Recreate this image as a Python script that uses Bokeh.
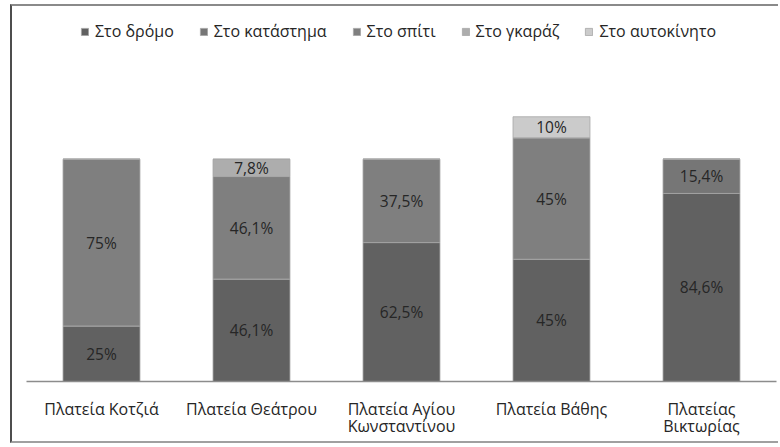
from bokeh.plotting import figure
from bokeh.models import ColumnDataSource, LabelSet, Range1d, FactorRange, Legend
from bokeh.core.properties import value
from bokeh.embed import file_html
from bokeh.resources import INLINE

# ---- data ----
places = ["Πλατεία Κοτζιά", "Πλατεία Θεάτρου", "Πλατεία Αγίου\nΚωνσταντίνου",
          "Πλατεία Βάθης", "Πλατείας\nΒικτωρίας"]
series = ["Στο δρόμο", "Στο κατάστημα", "Στο σπίτι", "Στο γκαράζ", "Στο αυτοκίνητο"]
# segment heights as drawn (percent scale)
street = [25, 46.1, 62.5, 55.0, 84.6]
shop = [0, 0, 0, 0, 15.4]
home = [75, 46.1, 37.5, 54.6, 0]
garage = [0, 7.8, 0, 0, 0]
car = [0, 0, 0, 9.5, 0]
# printed labels
street_lbl = ["25%", "46,1%", "62,5%", "45%", "84,6%"]
shop_lbl = ["", "", "", "", "15,4%"]
home_lbl = ["75%", "46,1%", "37,5%", "45%", ""]
garage_lbl = ["", "7,8%", "", "", ""]
car_lbl = ["", "", "", "10%", ""]

colors = ["#616161", "#767676", "#7f7f7f", "#adadad", "#cbcbcb"]
keys = ["street", "shop", "home", "garage", "car"]

src = ColumnDataSource(dict(place=places, street=street, shop=shop, home=home,
                            garage=garage, car=car))

FONT = "Open Sans"

p = figure(x_range=FactorRange(*places), y_range=Range1d(0, 165.1),
           width=768, height=439, output_backend="svg", toolbar_location=None,
           min_border_left=14, min_border_right=4, min_border_top=8, min_border_bottom=64)
p.styles = {"margin-left": "10px", "margin-top": "4px",
            "border-left": "2px solid #4d4d4d", "border-top": "2px solid #8a8a8a",
            "border-bottom": "2px solid #a0a0a0"}

renderers = p.vbar_stack(keys, x="place", width=0.513, source=src, color=colors,
                         line_color="#a6a6a6", line_width=0.8)

# labels at segment centres
lx, ly, lt = [], [], []
all_vals = [street, shop, home, garage, car]
all_lbls = [street_lbl, shop_lbl, home_lbl, garage_lbl, car_lbl]
for i, pl in enumerate(places):
    base = 0
    for vals, lbls in zip(all_vals, all_lbls):
        h = vals[i]
        if lbls[i]:
            lx.append(pl)
            ly.append(base + h / 2)
            lt.append(lbls[i])
        base += h
lsrc = ColumnDataSource(dict(x=lx, y=ly, t=lt))
p.add_layout(LabelSet(x="x", y="y", text="t", source=lsrc, text_align="center",
                      text_baseline="middle", text_font=value(FONT),
                      text_font_size="15.5px", text_color="#262626"))

legend = Legend(items=[(s, [r]) for s, r in zip(series, renderers)],
                orientation="horizontal", location=(54, 339))
legend.label_text_font = FONT
legend.label_text_font_size = "16px"
legend.label_text_color = "#262626"
legend.glyph_width = 9
legend.glyph_height = 9
legend.label_standoff = 6
legend.spacing = 25
legend.padding = 0
legend.margin = 0
legend.label_height = 20
legend.border_line_color = None
legend.background_fill_alpha = 0
p.add_layout(legend, "center")

p.yaxis.visible = False
p.xgrid.visible = False
p.ygrid.visible = False
p.outline_line_color = None
p.xaxis.axis_line_color = "#8c8c8c"
p.xaxis.axis_line_width = 1.5
p.xaxis.major_tick_line_color = None
p.xaxis.minor_tick_line_color = None
p.xaxis.major_label_standoff = 10
p.xaxis.major_label_text_font = FONT
p.xaxis.major_label_text_font_size = "16px"
p.xaxis.major_label_text_line_height = 0.8
p.xaxis.major_label_text_color = "#262626"
p.x_range.range_padding = 0
p.background_fill_color = "white"
p.border_fill_color = "white"

open("out.html", "w").write(file_html(p, INLINE))
